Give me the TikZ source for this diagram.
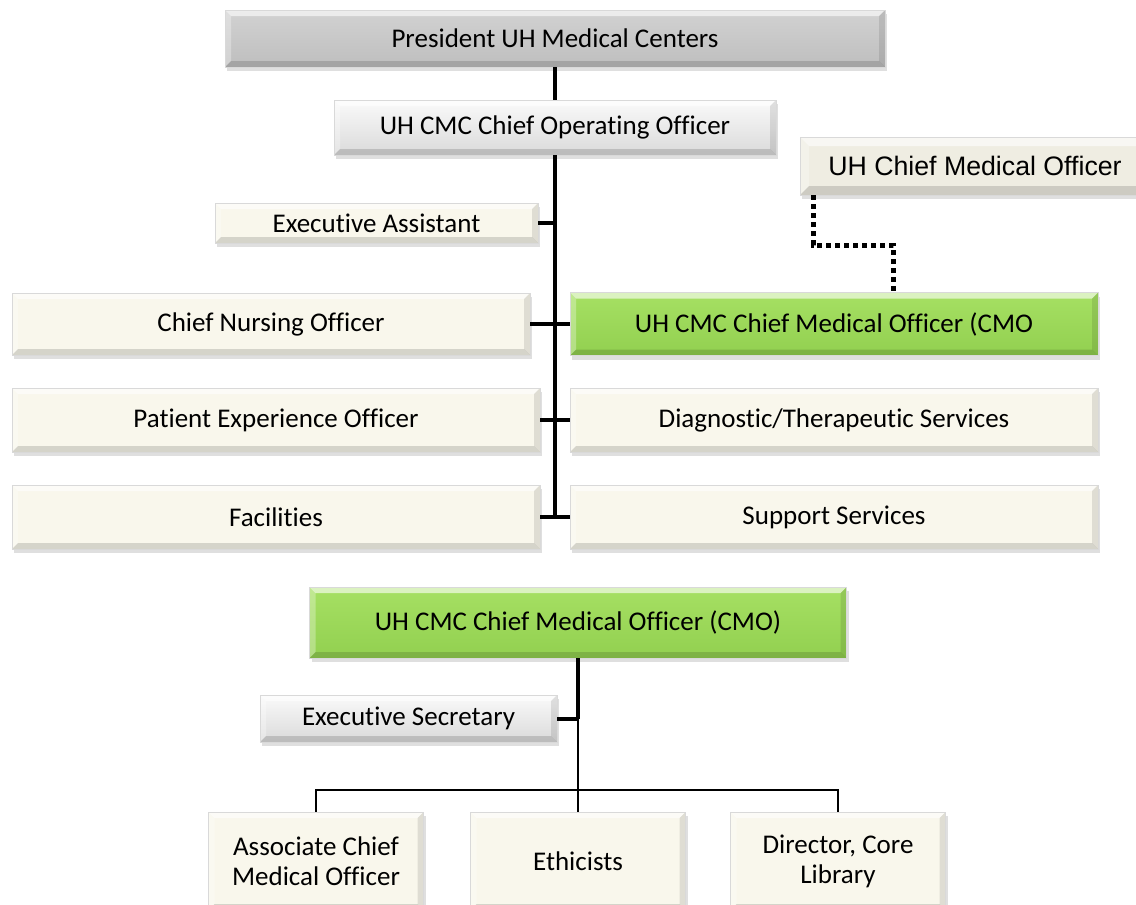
\documentclass[tikz,border=0pt]{standalone}
\usepackage{fontspec}
\setmainfont{Carlito}[Ligatures=NoCommon]
\newfontfamily\arialfont{Liberation Sans}
\usetikzlibrary{shadows}
\definecolor{cream}{HTML}{F9F7EC}
\definecolor{creamdk}{HTML}{EFEDE2}
\definecolor{greenA}{HTML}{A6E063}
\definecolor{greenB}{HTML}{92D050}
\definecolor{presA}{HTML}{D2D2D2}
\definecolor{presB}{HTML}{BEBEBE}
\definecolor{silA}{HTML}{FAFAFA}
\definecolor{silB}{HTML}{DADADA}
\tikzset{
  bev/.style={path picture={
    \coordinate (qa) at (path picture bounding box.north west);
    \coordinate (qb) at (path picture bounding box.north east);
    \coordinate (qc) at (path picture bounding box.south east);
    \coordinate (qd) at (path picture bounding box.south west);
    \fill[white,opacity=.6] (qa) -- (qb) -- ([shift={(-#1,-#1)}]qb) -- ([shift={(#1,-#1)}]qa) -- cycle;
    \fill[white,opacity=.3] (qa) -- (qd) -- ([shift={(#1,#1)}]qd) -- ([shift={(#1,-#1)}]qa) -- cycle;
    \fill[black,opacity=.14] (qd) -- (qc) -- ([shift={(-#1,#1)}]qc) -- ([shift={(#1,#1)}]qd) -- cycle;
    \fill[black,opacity=.10] (qb) -- (qc) -- ([shift={(-#1,#1)}]qc) -- ([shift={(-#1,-#1)}]qb) -- cycle;
  }},
  bev/.default=6pt,
  box/.style={rectangle, inner sep=0pt, draw=black!15, line width=.5pt,
    font=\fontsize{27}{30}\selectfont, align=center,
    drop shadow={shadow xshift=2pt, shadow yshift=-4pt, opacity=.25}},
  creambox/.style={box, fill=cream, bev},
  greenbox/.style={box, top color=greenA, bottom color=greenB, bev},
  presbox/.style={box, top color=presA, bottom color=presB, bev},
  silbox/.style={box, top color=silA, bottom color=silB, bev},
  uhbox/.style={box, fill=creamdk, bev=9pt, font=\arialfont\fontsize{26.7}{30}\selectfont},
  thickln/.style={line width=4pt, draw=black},
  thinln/.style={line width=2.5pt, draw=black},
  dotln/.style={line width=5pt, draw=black, dash pattern=on 5pt off 4pt},
}
\begin{document}
\begin{tikzpicture}[x=1pt,y=-1pt]
\useasboundingbox (0,0) rectangle (1136,905);
% top chart
\node[presbox, minimum width=660pt, minimum height=57pt] (pres) at (555,38.5) {President UH Medical Centers};
\node[silbox, minimum width=442pt, minimum height=55pt] (coo) at (555,127.5) {UH CMC Chief Operating Officer};
\node[uhbox, minimum width=350pt, minimum height=58pt] (uhcmo) at (975,166) {UH Chief Medical Officer};
\node[creambox, minimum width=323pt, minimum height=40pt] (ea) at (376.5,223) {Executive Assistant};
\node[creambox, minimum width=518pt, minimum height=62pt] (cno) at (271,324) {Chief Nursing Officer};
\node[greenbox, minimum width=528pt, minimum height=63pt] (cmo1) at (834,324) {UH CMC Chief Medical Officer (CMO};
\node[creambox, minimum width=528pt, minimum height=64pt] (peo) at (276,420) {Patient Experience Officer};
\node[creambox, minimum width=528pt, minimum height=64pt] (dts) at (834,420) {Diagnostic/Therapeutic Services};
\node[creambox, minimum width=528pt, minimum height=64pt] (fac) at (276,517) {Facilities};
\node[creambox, minimum width=528pt, minimum height=64pt] (ss) at (834,517) {Support Services};
\coordinate (tb) at (555,517);
\coordinate (d1) at (813,245);
\coordinate (d2) at (893,245);
\draw[thickln] (pres.south) -- (coo.north);
\draw[thickln] (coo.south) -- (tb);
\draw[thickln] (ea.east) -- (ea.east -| tb);
\draw[thickln] (cno.east) -- (cmo1.west);
\draw[thickln] (peo.east) -- (dts.west);
\draw[thickln] (fac.east) -- (ss.west);
\draw[dotln] (uhcmo.south -| d1) -- (d1) -- (d2) -- (d2 |- cmo1.north);
% bottom chart
\node[greenbox, minimum width=537pt, minimum height=71pt] (cmo2) at (578,622.5) {UH CMC Chief Medical Officer (CMO)};
\node[silbox, minimum width=297pt, minimum height=47pt] (es) at (408.5,718.5) {Executive Secretary};
\node[creambox, minimum width=215pt, minimum height=98pt] (acmo) at (316,861) {Associate Chief\\Medical Officer};
\node[creambox, minimum width=215pt, minimum height=98pt] (eth) at (578,861) {Ethicists};
\node[creambox, minimum width=215pt, minimum height=98pt] (dcl) at (838,861) {Director, Core\\Library};
\coordinate (hb) at (578,790);
\coordinate (jn) at (578,718.5);
\draw[thickln] (cmo2.south) -- (jn);
\draw[thickln] (es.east) -- (jn);
\draw[thinln] (jn) -- (eth.north);
\draw[thinln] (acmo.north) -- (acmo.north |- hb) -- (dcl.north |- hb) -- (dcl.north);
\end{tikzpicture}
\end{document}
